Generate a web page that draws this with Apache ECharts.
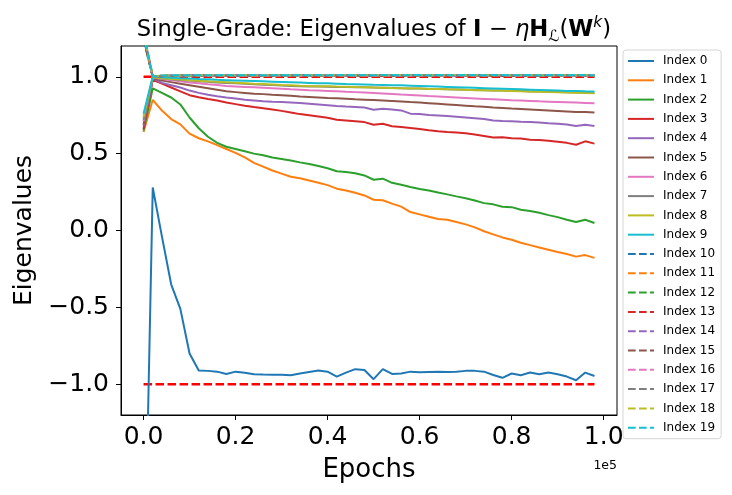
<!DOCTYPE html>
<html>
<head>
<meta charset="utf-8">
<script src="https://cdn.jsdelivr.net/npm/echarts@6.0.0/dist/echarts.min.js"></script>
<style>
  html, body { margin: 0; padding: 0; background: #fff; }
  #chart { width: 732px; height: 495px; }
</style>
</head>
<body>
<div id="chart"></div>
<script>
// epochs on the x axis (every 2000 epochs)
var epochs = [0, 2000, 4000, 6000, 8000, 10000, 12000, 14000, 16000, 18000,
  20000, 22000, 24000, 26000, 28000, 30000, 32000, 34000, 36000, 38000,
  40000, 42000, 44000, 46000, 48000, 50000, 52000, 54000, 56000, 58000,
  60000, 62000, 64000, 66000, 68000, 70000, 72000, 74000, 76000, 78000,
  80000, 82000, 84000, 86000, 88000, 90000, 92000, 94000, 96000, 98000];

var xTicks = [0, 20000, 40000, 60000, 80000, 100000];
var yTicks = [-1.0, -0.5, 0.0, 0.5, 1.0];

// solid eigenvalue curves
var idx0 = [-2.6, 0.28, -0.04, -0.35, -0.51, -0.80, -0.91, -0.913, -0.918, -0.933,
  -0.918, -0.925, -0.935, -0.937, -0.938, -0.939, -0.941, -0.93, -0.92, -0.911,
  -0.918, -0.95, -0.924, -0.902, -0.907, -0.967, -0.902, -0.933, -0.93, -0.918,
  -0.922, -0.92, -0.918, -0.92, -0.918, -0.913, -0.913, -0.918, -0.94, -0.958,
  -0.93, -0.941, -0.924, -0.935, -0.924, -0.935, -0.95, -0.974, -0.924, -0.946];
var idx1 = [0.64, 0.85, 0.78, 0.725, 0.69, 0.63, 0.60, 0.58, 0.555, 0.53,
  0.505, 0.475, 0.44, 0.415, 0.39, 0.37, 0.35, 0.34, 0.325, 0.31,
  0.295, 0.272, 0.26, 0.245, 0.228, 0.20, 0.197, 0.175, 0.155, 0.12,
  0.105, 0.09, 0.075, 0.07, 0.055, 0.04, 0.02, -0.005, -0.025, -0.045,
  -0.06, -0.08, -0.095, -0.11, -0.125, -0.14, -0.153, -0.17, -0.16, -0.178];
var idx2 = [0.65, 0.925, 0.895, 0.865, 0.82, 0.735, 0.665, 0.61, 0.57, 0.545,
  0.53, 0.515, 0.50, 0.49, 0.475, 0.465, 0.455, 0.443, 0.432, 0.42,
  0.405, 0.385, 0.38, 0.372, 0.358, 0.33, 0.337, 0.31, 0.298, 0.283,
  0.27, 0.26, 0.247, 0.235, 0.222, 0.21, 0.195, 0.178, 0.17, 0.155,
  0.152, 0.135, 0.127, 0.115, 0.10, 0.087, 0.07, 0.055, 0.07, 0.049];
var idx3 = [0.66, 0.98, 0.955, 0.93, 0.905, 0.88, 0.867, 0.855, 0.845, 0.832,
  0.822, 0.812, 0.803, 0.795, 0.787, 0.778, 0.768, 0.757, 0.75, 0.742,
  0.733, 0.72, 0.715, 0.71, 0.705, 0.688, 0.694, 0.678, 0.673, 0.667,
  0.66, 0.652, 0.645, 0.64, 0.637, 0.633, 0.625, 0.615, 0.605, 0.607,
  0.60, 0.598, 0.59, 0.588, 0.583, 0.577, 0.57, 0.558, 0.58, 0.565];
var idx4 = [0.68, 0.99, 0.96, 0.945, 0.93, 0.91, 0.895, 0.883, 0.873, 0.865,
  0.858, 0.85, 0.845, 0.84, 0.837, 0.835, 0.833, 0.83, 0.825, 0.82,
  0.815, 0.81, 0.806, 0.803, 0.80, 0.786, 0.792, 0.787, 0.781, 0.76,
  0.757, 0.752, 0.748, 0.744, 0.74, 0.735, 0.73, 0.725, 0.715, 0.712,
  0.71, 0.707, 0.705, 0.702, 0.698, 0.695, 0.69, 0.68, 0.688, 0.68];
var idx5 = [0.69, 0.99, 0.975, 0.965, 0.955, 0.945, 0.935, 0.925, 0.915, 0.905,
  0.90, 0.895, 0.89, 0.887, 0.883, 0.88, 0.876, 0.871, 0.868, 0.865,
  0.862, 0.86, 0.857, 0.853, 0.851, 0.848, 0.845, 0.842, 0.839, 0.835,
  0.832, 0.828, 0.824, 0.82, 0.816, 0.812, 0.808, 0.805, 0.80, 0.797,
  0.793, 0.79, 0.787, 0.784, 0.781, 0.778, 0.774, 0.77, 0.77, 0.768];
var idx6 = [0.71, 0.995, 0.985, 0.978, 0.97, 0.963, 0.957, 0.951, 0.946, 0.94,
  0.937, 0.934, 0.931, 0.928, 0.925, 0.922, 0.918, 0.915, 0.912, 0.91,
  0.908, 0.905, 0.902, 0.90, 0.897, 0.894, 0.891, 0.888, 0.884, 0.881,
  0.878, 0.874, 0.871, 0.868, 0.865, 0.862, 0.859, 0.856, 0.853, 0.85,
  0.847, 0.845, 0.843, 0.84, 0.838, 0.836, 0.834, 0.832, 0.83, 0.828];
var idx7 = [0.72, 0.995, 0.988, 0.983, 0.979, 0.975, 0.971, 0.967, 0.963, 0.96,
  0.957, 0.954, 0.951, 0.948, 0.946, 0.943, 0.94, 0.938, 0.937, 0.936,
  0.935, 0.934, 0.933, 0.932, 0.931, 0.93, 0.929, 0.927, 0.925, 0.924,
  0.923, 0.921, 0.92, 0.918, 0.917, 0.915, 0.914, 0.912, 0.911, 0.91,
  0.908, 0.907, 0.905, 0.904, 0.902, 0.901, 0.899, 0.898, 0.896, 0.895];
var idx8 = [0.74, 0.997, 0.99, 0.986, 0.982, 0.978, 0.974, 0.97, 0.967, 0.964,
  0.961, 0.958, 0.955, 0.953, 0.95, 0.947, 0.945, 0.942, 0.94, 0.939,
  0.938, 0.936, 0.935, 0.933, 0.932, 0.93, 0.929, 0.927, 0.926, 0.924,
  0.923, 0.921, 0.92, 0.918, 0.917, 0.915, 0.913, 0.912, 0.91, 0.909,
  0.907, 0.905, 0.903, 0.902, 0.90, 0.899, 0.897, 0.896, 0.894, 0.893];
var idx9 = [0.76, 1.0, 0.996, 0.993, 0.99, 0.988, 0.985, 0.983, 0.98, 0.978,
  0.976, 0.974, 0.972, 0.97, 0.968, 0.966, 0.964, 0.962, 0.96, 0.958,
  0.957, 0.955, 0.953, 0.952, 0.95, 0.948, 0.947, 0.945, 0.944, 0.942,
  0.94, 0.938, 0.936, 0.934, 0.932, 0.93, 0.928, 0.926, 0.924, 0.922,
  0.92, 0.918, 0.916, 0.914, 0.912, 0.91, 0.908, 0.907, 0.905, 0.904];

// dashed eigenvalue curves (all stay close to 1)
var idx10 = [1.24, 1.0, 1.004, 1.005, 1.004, 1.006, 1.005, 1.006, 1.005, 1.007,
  1.006, 1.005, 1.006, 1.007, 1.006, 1.005, 1.006, 1.007, 1.006, 1.006,
  1.005, 1.006, 1.007, 1.006, 1.005, 1.006, 1.007, 1.006, 1.005, 1.006,
  1.006, 1.007, 1.006, 1.005, 1.006, 1.007, 1.006, 1.005, 1.006, 1.006,
  1.007, 1.006, 1.005, 1.006, 1.007, 1.006, 1.005, 1.006, 1.007, 1.006];
var idx11 = [1.25, 1.0, 1.005, 1.006, 1.005, 1.007, 1.006, 1.005, 1.007, 1.006,
  1.007, 1.006, 1.005, 1.007, 1.006, 1.007, 1.006, 1.005, 1.007, 1.006,
  1.006, 1.007, 1.006, 1.005, 1.007, 1.006, 1.006, 1.007, 1.006, 1.005,
  1.007, 1.006, 1.007, 1.006, 1.005, 1.006, 1.007, 1.006, 1.007, 1.005,
  1.006, 1.007, 1.006, 1.007, 1.006, 1.005, 1.007, 1.006, 1.006, 1.007];
var idx12 = [1.25, 1.0, 1.006, 1.005, 1.007, 1.006, 1.007, 1.006, 1.006, 1.005,
  1.007, 1.007, 1.006, 1.006, 1.008, 1.006, 1.007, 1.006, 1.005, 1.007,
  1.007, 1.006, 1.006, 1.007, 1.006, 1.008, 1.006, 1.006, 1.007, 1.007,
  1.006, 1.005, 1.007, 1.007, 1.006, 1.006, 1.007, 1.008, 1.006, 1.007,
  1.006, 1.006, 1.007, 1.006, 1.007, 1.007, 1.006, 1.007, 1.007, 1.006];
var idx13 = [1.26, 1.0, 1.005, 1.007, 1.006, 1.006, 1.008, 1.007, 1.006, 1.007,
  1.006, 1.008, 1.007, 1.006, 1.007, 1.008, 1.006, 1.007, 1.007, 1.006,
  1.008, 1.007, 1.006, 1.007, 1.008, 1.006, 1.007, 1.006, 1.008, 1.007,
  1.007, 1.006, 1.008, 1.007, 1.006, 1.007, 1.008, 1.006, 1.007, 1.007,
  1.008, 1.006, 1.007, 1.008, 1.006, 1.007, 1.007, 1.008, 1.006, 1.007];
var idx14 = [1.27, 1.0, 1.006, 1.006, 1.007, 1.008, 1.006, 1.007, 1.008, 1.007,
  1.007, 1.006, 1.008, 1.007, 1.007, 1.006, 1.008, 1.008, 1.007, 1.007,
  1.006, 1.008, 1.007, 1.008, 1.007, 1.007, 1.008, 1.007, 1.006, 1.008,
  1.008, 1.007, 1.007, 1.008, 1.007, 1.008, 1.006, 1.007, 1.008, 1.008,
  1.007, 1.008, 1.006, 1.007, 1.008, 1.008, 1.007, 1.006, 1.008, 1.008];
var idx15 = [1.27, 1.0, 1.007, 1.006, 1.008, 1.007, 1.007, 1.008, 1.007, 1.008,
  1.008, 1.007, 1.007, 1.009, 1.008, 1.007, 1.007, 1.008, 1.009, 1.008,
  1.007, 1.007, 1.008, 1.009, 1.008, 1.007, 1.008, 1.008, 1.007, 1.009,
  1.008, 1.008, 1.007, 1.009, 1.008, 1.007, 1.008, 1.009, 1.008, 1.008,
  1.007, 1.009, 1.008, 1.008, 1.007, 1.009, 1.008, 1.008, 1.009, 1.008];
var idx16 = [1.28, 1.0, 1.006, 1.008, 1.007, 1.008, 1.009, 1.007, 1.008, 1.008,
  1.009, 1.008, 1.007, 1.008, 1.009, 1.008, 1.008, 1.007, 1.009, 1.009,
  1.008, 1.008, 1.009, 1.007, 1.008, 1.009, 1.008, 1.009, 1.008, 1.008,
  1.009, 1.009, 1.008, 1.008, 1.009, 1.008, 1.009, 1.008, 1.009, 1.009,
  1.008, 1.008, 1.009, 1.009, 1.008, 1.008, 1.009, 1.009, 1.008, 1.009];
var idx17 = [1.28, 1.0, 1.007, 1.007, 1.008, 1.009, 1.008, 1.009, 1.009, 1.008,
  1.008, 1.009, 1.01, 1.008, 1.009, 1.009, 1.008, 1.01, 1.009, 1.008,
  1.009, 1.01, 1.009, 1.008, 1.009, 1.009, 1.01, 1.008, 1.009, 1.009,
  1.01, 1.009, 1.008, 1.009, 1.01, 1.009, 1.009, 1.008, 1.01, 1.009,
  1.009, 1.01, 1.009, 1.008, 1.009, 1.01, 1.009, 1.009, 1.01, 1.009];
var idx18 = [1.29, 1.0, 1.008, 1.008, 1.009, 1.008, 1.01, 1.009, 1.009, 1.01,
  1.009, 1.009, 1.01, 1.01, 1.009, 1.01, 1.009, 1.009, 1.01, 1.01,
  1.009, 1.01, 1.01, 1.009, 1.01, 1.01, 1.009, 1.01, 1.011, 1.009,
  1.01, 1.01, 1.009, 1.01, 1.011, 1.01, 1.009, 1.01, 1.01, 1.011,
  1.01, 1.009, 1.01, 1.011, 1.01, 1.01, 1.009, 1.01, 1.011, 1.01];
var idx19 = [1.30, 1.0, 1.008, 1.009, 1.009, 1.01, 1.009, 1.01, 1.01, 1.011,
  1.01, 1.01, 1.011, 1.01, 1.01, 1.011, 1.01, 1.011, 1.01, 1.011,
  1.01, 1.011, 1.011, 1.01, 1.011, 1.01, 1.011, 1.011, 1.01, 1.011,
  1.011, 1.01, 1.011, 1.011, 1.01, 1.011, 1.011, 1.01, 1.011, 1.011,
  1.01, 1.011, 1.011, 1.01, 1.011, 1.011, 1.01, 1.011, 1.011, 1.01];

// red reference lines at +1 / -1
var refEpochs = [0, 98000];
var refUpper = [1.0, 1.0];
var refLower = [-1.0, -1.0];

var allSeries = [idx0, idx1, idx2, idx3, idx4, idx5, idx6, idx7, idx8, idx9,
  idx10, idx11, idx12, idx13, idx14, idx15, idx16, idx17, idx18, idx19];
var colors = ['#1f77b4', '#ff7f0e', '#2ca02c', '#d62728', '#9467bd',
  '#8c564b', '#e377c2', '#7f7f7f', '#bcbd22', '#17becf'];

var FONT = 'DejaVu Sans';

function pairs(xs, ys) {
  return xs.map(function (x, i) { return [x, ys[i]]; });
}

var names = [];
var series = [];

series.push({
  type: 'line', data: pairs(refEpochs, refUpper), symbol: 'none', silent: true,
  lineStyle: { color: '#ff0000', width: 2.7, type: [8.5, 3.5] }, z: 1
});
series.push({
  type: 'line', data: pairs(refEpochs, refLower), symbol: 'none', silent: true,
  lineStyle: { color: '#ff0000', width: 2.7, type: [8.5, 3.5] }, z: 1
});

allSeries.forEach(function (vals, k) {
  var name = 'Index ' + k;
  names.push(name);
  series.push({
    name: name,
    type: 'line',
    data: pairs(epochs, vals),
    symbol: 'none',
    color: colors[k % 10],
    lineStyle: { width: 2, type: k < 10 ? 'solid' : [7.7, 3.3] },
    z: 2 + k
  });
});

var chart = echarts.init(document.getElementById('chart'));
chart.setOption({
  animation: false,
  textStyle: { fontFamily: FONT },
  title: {
    text: '{n|Single-Grade: Eigenvalues of }{b|I}{n| − }{i|η}{b|H}{s|ℒ}{n|(}{b|W}{p|k}{n|)}',
    left: 369,
    textAlign: 'center',
    top: 10,
    textStyle: {
      fontWeight: 'normal',
      rich: {
        n: { fontSize: 22.7, fontFamily: FONT, fontWeight: 'normal', color: '#000', lineHeight: 30 },
        b: { fontSize: 22.7, fontFamily: FONT, fontWeight: 'bold', color: '#000', lineHeight: 30 },
        i: { fontSize: 22.7, fontFamily: FONT, fontWeight: 'normal', fontStyle: 'italic', color: '#000', lineHeight: 30 },
        s: { fontSize: 15.5, fontFamily: FONT, fontWeight: 'normal', color: '#000', lineHeight: 12, verticalAlign: 'bottom' },
        p: { fontSize: 15.5, fontFamily: FONT, fontWeight: 'normal', fontStyle: 'italic', color: '#000', lineHeight: 12, verticalAlign: 'top' }
      }
    }
  },
  grid: {
    left: 121, right: 115, top: 46, bottom: 80,
    show: true, borderColor: '#000', borderWidth: 1, backgroundColor: '#fff'
  },
  legend: {
    data: names,
    orient: 'vertical',
    left: 623,
    top: 50,
    itemWidth: 26,
    itemHeight: 12,
    itemGap: 7.3,
    padding: [5, 6, 5, 4],
    borderColor: '#d5d5d5',
    borderWidth: 1,
    borderRadius: 3,
    backgroundColor: '#fff',
    itemStyle: { color: 'rgba(0,0,0,0)', borderColor: 'rgba(0,0,0,0)', borderWidth: 0 },
    textStyle: { fontSize: 12, fontFamily: FONT, color: '#000', padding: [0, 0, 0, 4] }
  },
  xAxis: {
    type: 'value',
    min: -4900,
    max: 102900,
    name: 'Epochs',
    nameLocation: 'middle',
    nameGap: 42,
    nameTextStyle: { fontSize: 26, fontFamily: FONT, color: '#000' },
    axisLine: { show: true, onZero: false, lineStyle: { color: '#000', width: 1 } },
    splitLine: { show: false },
    axisTick: { show: true, length: 5, lineStyle: { color: '#000', width: 1 }, customValues: xTicks },
    axisLabel: {
      customValues: xTicks,
      fontSize: 25, fontFamily: FONT, color: '#000', margin: 10,
      formatter: function (v) { return (v / 100000).toFixed(1); }
    }
  },
  yAxis: {
    type: 'value',
    min: -1.2,
    max: 1.2,
    name: 'Eigenvalues',
    nameLocation: 'middle',
    nameGap: 84,
    nameTextStyle: { fontSize: 25, fontFamily: FONT, color: '#000' },
    axisLine: { show: true, onZero: false, lineStyle: { color: '#000', width: 1 } },
    splitLine: { show: false },
    axisTick: { show: true, length: 5, lineStyle: { color: '#000', width: 1 }, customValues: yTicks },
    axisLabel: {
      customValues: yTicks,
      fontSize: 25, fontFamily: FONT, color: '#000', margin: 12,
      formatter: function (v) { return v.toFixed(1).replace('-', '\u2212'); }
    }
  },
  graphic: [{
    type: 'text',
    right: 115,
    top: 459,
    style: { text: '1e5', fontSize: 12.5, fontFamily: FONT, fill: '#000' }
  }],
  series: series
});
</script>
</body>
</html>
